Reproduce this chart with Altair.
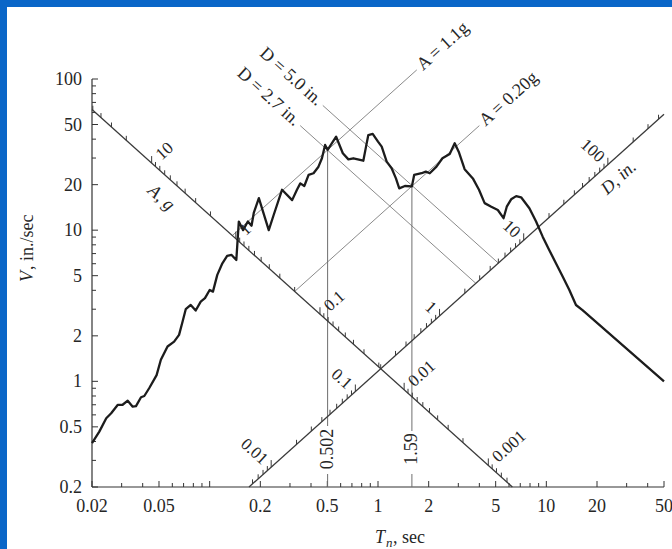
import math
import altair as alt
import pandas as pd

# Pseudo-velocity response spectrum: V (in./sec) against natural period Tn (sec)
period = [0.02, 0.0221, 0.0243, 0.026, 0.0284, 0.0304, 0.0326, 0.0349, 0.0365, 0.0391,
          0.0409, 0.0437, 0.0484, 0.0513, 0.0562, 0.0615, 0.0658, 0.069, 0.0721, 0.0772,
          0.0826, 0.0885, 0.0938, 0.1, 0.1046, 0.111, 0.119, 0.127, 0.135, 0.144,
          0.149, 0.158, 0.1686, 0.1773, 0.1828, 0.196, 0.2244, 0.24, 0.269, 0.309,
          0.33, 0.3455, 0.365, 0.387, 0.414, 0.443, 0.4645, 0.485, 0.502, 0.564,
          0.618, 0.667, 0.714, 0.818, 0.849, 0.876, 0.93, 1.0, 1.052, 1.126,
          1.205, 1.278, 1.337, 1.445, 1.59, 1.64, 1.814, 1.923, 2.03, 2.225,
          2.414, 2.667, 2.855, 3.03, 3.27, 3.66, 3.98, 4.3, 4.71, 5.15,
          5.57, 5.82, 6.18, 6.62, 7.08, 7.93, 8.69, 9.51, 10.4, 11.4,
          12.5, 13.7, 15.0, 16.4, 50.0]
velocity = [0.39, 0.465, 0.57, 0.615, 0.698, 0.70, 0.745, 0.68, 0.685, 0.785,
            0.80, 0.90, 1.10, 1.39, 1.70, 1.83, 2.03, 2.48, 3.0, 3.2,
            2.94, 3.37, 3.55, 4.02, 3.92, 5.06, 6.04, 6.75, 6.86, 6.35,
            11.4, 10.0, 11.4, 10.7, 13.0, 16.3, 10.0, 12.6, 18.5, 15.8,
            18.5, 20.4, 19.6, 23.2, 23.8, 26.3, 29.9, 36.6, 34.0, 41.5,
            32.3, 29.4, 29.9, 28.8, 35.7, 42.6, 43.3, 38.5, 35.7, 28.4,
            25.7, 22.0, 18.9, 19.6, 19.5, 23.2, 23.8, 24.4, 23.8, 26.3,
            29.9, 31.9, 37.6, 32.6, 25.3, 22.0, 18.5, 15.1, 14.3, 13.6,
            12.0, 14.3, 16.0, 16.8, 16.5, 13.96, 11.4, 9.06, 7.4, 6.04,
            4.93, 4.02, 3.2, 2.96, 1.0]

# Labelled ticks of the period and velocity axes
x_tick_labels = [0.02, 0.05, 0.2, 0.5, 1, 2, 5, 10, 20, 50]
y_tick_labels = [0.2, 0.5, 1, 2, 5, 10, 20, 50, 100]

# Diagonal scales: A (g) runs along a constant-D line, D (in.) along a constant-A line
A_SCALE_DISP = 0.2     # in.
D_SCALE_ACC = 0.019    # g
a_scale_labels = [10, 1, 0.1, 0.01, 0.001]
d_scale_labels = [0.01, 0.1, 1, 10, 100]

# Spectral peaks marked on the chart
peak_period = [0.502, 1.59]      # sec
peak_acc = [1.1, 0.20]           # g
peak_disp = [2.7, 5.0]           # in.
acc_line_text = ["A = 1.1g", "A = 0.20g"]
disp_line_text = ["D = 2.7 in.", "D = 5.0 in."]

G = 386.1  # in./sec^2

# ---------------------------------------------------------------- layout
W, H = 572, 408
X_DOM, Y_DOM = [0.02, 50], [0.2, 100]
ANG = math.degrees(math.atan((H / math.log10(Y_DOM[1] / Y_DOM[0])) /
                             (W / math.log10(X_DOM[1] / X_DOM[0]))))
FONT = "Liberation Serif"
INK = "#262626"
AXIS = "#333333"
GRAY = "#8a8a8a"
BLUE = "#0a66c8"
acc_line_end = [1.7, 4.0]        # period where each constant-A line stops
disp_line_end = [0.345, 0.47]    # period where each constant-D line stops
label_gap = [347, 352]           # top of the break around each period label


def v_acc(a, t):
    return a * G * t / (2 * math.pi)


def v_disp(d, t):
    return 2 * math.pi * d / t


def meet(a, d):
    return 2 * math.pi * math.sqrt(d / (a * G)), math.sqrt(a * G * d)


def steps(lo, hi):
    out = []
    for e in range(-4, 3):
        for m in range(1, 10):
            v = round(m * 10 ** e, 6)
            if lo <= v <= hi:
                out.append((v, m == 1))
    return out


xs = alt.Scale(type="log", domain=X_DOM, nice=False)
ys = alt.Scale(type="log", domain=Y_DOM, nice=False)


def X(field):
    return alt.X(field, type="quantitative", scale=xs, axis=None)


def Y(field):
    return alt.Y(field, type="quantitative", scale=ys, axis=None)


one = pd.DataFrame({"k": [0]})

# white sheet
sheet = alt.Chart(one).mark_rect(color="white").encode(
    x=alt.value(-85), x2=alt.value(W + 8), y=alt.value(-72), y2=alt.value(H + 62))

# spectrum curve
curve_df = pd.DataFrame({"T": period, "V": velocity, "i": range(len(period))})
curve = alt.Chart(curve_df).mark_line(color="#1c1c1c", strokeWidth=2.3,
                                      strokeJoin="round").encode(
    x=X("T"), y=Y("V"), order=alt.Order("i:Q"))

# period and velocity axes: lines, inward ticks and numbers
x_line = alt.Chart(pd.DataFrame({"T1": [X_DOM[0]], "T2": [X_DOM[1]]})).mark_rule(
    color=AXIS, strokeWidth=1.2).encode(x=X("T1"), x2="T2", y=alt.value(H))
y_line = alt.Chart(pd.DataFrame({"V1": [Y_DOM[0]], "V2": [Y_DOM[1]]})).mark_rule(
    color=AXIS, strokeWidth=1.2).encode(y=Y("V1"), y2="V2", x=alt.value(0))
xt = pd.DataFrame([{"T": v, "big": b or v in x_tick_labels} for v, b in steps(0.02, 50)])
yt = pd.DataFrame([{"V": v, "big": b or v in y_tick_labels} for v, b in steps(0.2, 100)])
x_ticks = [
    alt.Chart(xt[xt.big == flag]).mark_rule(color=AXIS, strokeWidth=1).encode(
        x=X("T"), y=alt.value(H), y2=alt.value(H - size))
    for flag, size in [(True, 6), (False, 4)]
]
y_ticks = [
    alt.Chart(yt[yt.big == flag]).mark_rule(color=AXIS, strokeWidth=1).encode(
        y=Y("V"), x=alt.value(0), x2=alt.value(size))
    for flag, size in [(True, 6), (False, 4)]
]
x_nums = alt.Chart(pd.DataFrame({"T": x_tick_labels,
                                 "txt": [f"{v:g}" for v in x_tick_labels]})).mark_text(
    font=FONT, fontSize=18, color=INK, align="center", baseline="alphabetic").encode(
    x=X("T"), y=alt.value(H + 25), text="txt:N")
y_nums = alt.Chart(pd.DataFrame({"V": y_tick_labels,
                                 "txt": [f"{v:g}" for v in y_tick_labels]})).mark_text(
    font=FONT, fontSize=18, color=INK, align="right", baseline="middle", dy=1).encode(
    y=Y("V"), x=alt.value(-10), text="txt:N")

# diagonal scale lines and the constant-A / constant-D lines
segs = []
segs.append(dict(T1=0.02, V1=v_disp(A_SCALE_DISP, 0.02),
                 T2=2 * math.pi * A_SCALE_DISP / Y_DOM[0], V2=Y_DOM[0], kind="scale"))
segs.append(dict(T1=Y_DOM[0] * 2 * math.pi / (D_SCALE_ACC * G), V1=Y_DOM[0],
                 T2=X_DOM[1], V2=v_acc(D_SCALE_ACC, X_DOM[1]), kind="scale"))
for a, tend in zip(peak_acc, acc_line_end):
    t0, v0 = meet(a, A_SCALE_DISP)
    segs.append(dict(T1=t0, V1=v0, T2=tend, V2=v_acc(a, tend), kind="ref"))
for d, tend in zip(peak_disp, disp_line_end):
    t0, v0 = meet(D_SCALE_ACC, d)
    segs.append(dict(T1=t0, V1=v0, T2=tend, V2=v_disp(d, tend), kind="ref"))
seg_df = pd.DataFrame(segs)
scale_lines = alt.Chart(seg_df[seg_df.kind == "scale"]).mark_rule(
    color="#3a3a3a", strokeWidth=1.3).encode(x=X("T1"), y=Y("V1"), x2="T2", y2="V2")
ref_lines = alt.Chart(seg_df[seg_df.kind == "ref"]).mark_rule(
    color=GRAY, strokeWidth=1).encode(x=X("T1"), y=Y("V1"), x2="T2", y2="V2")

# vertical lines at the two peak periods, broken around their labels
vert_df = pd.DataFrame({"T": peak_period,
                        "V": [v_acc(a, t) for a, t in zip(peak_acc, peak_period)],
                        "txt": [f"{t:g}" for t in peak_period]})
vert_layers = []
for i in range(len(peak_period)):
    vert_layers.append(alt.Chart(vert_df.iloc[[i]]).mark_rule(
        color="#6e6e6e", strokeWidth=1).encode(
        x=X("T"), y=Y("V"), y2=alt.value(label_gap[i])))
vert_low = alt.Chart(vert_df).mark_rule(color="#6e6e6e", strokeWidth=1).encode(
    x=X("T"), y=alt.value(395), y2=alt.value(H))
vert_text = alt.Chart(vert_df).mark_text(
    angle=270, align="center", baseline="middle", font=FONT, fontSize=18, color=INK).encode(
    x=X("T"), y=alt.value(370), text="txt:N")

# ticks and numbers on the diagonal scales
a_lo = Y_DOM[0] ** 2 / (G * A_SCALE_DISP)
a_hi = v_disp(A_SCALE_DISP, 0.02) * 2 * math.pi / (G * 0.02)
d_hi = v_acc(D_SCALE_ACC, X_DOM[1]) * X_DOM[1] / (2 * math.pi)
d_lo = Y_DOM[0] ** 2 / (D_SCALE_ACC * G)
dtk = []
for a, big in steps(a_lo, a_hi):
    t, v = meet(a, A_SCALE_DISP)
    dtk.append(dict(T=t, V=v, big=big))
for d, big in steps(d_lo, d_hi):
    t, v = meet(D_SCALE_ACC, d)
    dtk.append(dict(T=t, V=v, big=big))
dtk_df = pd.DataFrame(dtk)
diag_ticks = [
    alt.Chart(dtk_df[dtk_df.big == flag]).mark_rule(
        color="#3a3a3a", strokeWidth=1, y2Offset=-size).encode(
        x=X("T"), y=Y("V"), y2="V")
    for flag, size in [(True, 7), (False, 4.5)]
]
a_lab = pd.DataFrame([dict(zip(("T", "V"), meet(a, A_SCALE_DISP)), txt=f"{a:g}")
                      for a in a_scale_labels])
d_lab = pd.DataFrame([dict(zip(("T", "V"), meet(D_SCALE_ACC, d)), txt=f"{d:g}")
                      for d in d_scale_labels])
a_text = alt.Chart(a_lab).mark_text(
    angle=360 - ANG, align="left", baseline="middle", dx=9,
    font=FONT, fontSize=17, color=INK).encode(x=X("T"), y=Y("V"), text="txt:N")
d_text = alt.Chart(d_lab).mark_text(
    angle=ANG, align="right", baseline="middle", dx=-8,
    font=FONT, fontSize=17, color=INK).encode(x=X("T"), y=Y("V"), text="txt:N")

# captions at the ends of the constant-A and constant-D lines
acc_cap = pd.DataFrame({"T": [t * 1.04 for t in acc_line_end],
                        "V": [v_acc(a, t * 1.04) for a, t in zip(peak_acc, acc_line_end)],
                        "txt": acc_line_text})
disp_cap = pd.DataFrame({"T": [t / 1.04 for t in disp_line_end],
                         "V": [v_disp(d, t / 1.04) for d, t in zip(peak_disp, disp_line_end)],
                         "txt": disp_line_text})
acc_text = alt.Chart(acc_cap).mark_text(
    angle=360 - ANG, align="left", baseline="middle", font=FONT, fontSize=18,
    color=INK).encode(x=X("T"), y=Y("V"), text="txt:N")
disp_text = alt.Chart(disp_cap).mark_text(
    angle=ANG, align="right", baseline="middle", font=FONT, fontSize=18,
    color=INK).encode(x=X("T"), y=Y("V"), text="txt:N")


def note(txt, x, y, **kw):
    style = dict(font=FONT, fontSize=18, color=INK, baseline="alphabetic", align="left")
    style.update(kw)
    return alt.Chart(one).mark_text(text=txt, **style).encode(x=alt.value(x), y=alt.value(y))


titles = [
    note("T", 283, 464, fontStyle="italic"),
    note("n", 294, 468, fontStyle="italic", fontSize=13),
    note(", sec", 301, 464),
    note("V", -59, 203, angle=270, fontStyle="italic"),
    note(", in./sec", -59, 191, angle=270),
    note("A, g", 69, 119, angle=ANG, align="center", baseline="middle", fontStyle="italic"),
    note("D, in.", 527, 99, angle=360 - ANG, align="center", baseline="middle", fontStyle="italic"),
]

chart = alt.layer(
    sheet, *x_ticks, *y_ticks, x_line, y_line, x_nums, y_nums,
    ref_lines, *vert_layers, vert_low, scale_lines,
    *diag_ticks, curve, vert_text, a_text, d_text, acc_text, disp_text, *titles,
).properties(
    width=W, height=H,
    padding={"left": 92, "top": 79, "right": 8, "bottom": 62},
    autosize=alt.AutoSizeParams(type="none"),
    background=BLUE,
).configure_view(stroke=None)

chart.save("out.html", embed_options={"renderer": "svg", "actions": False})
